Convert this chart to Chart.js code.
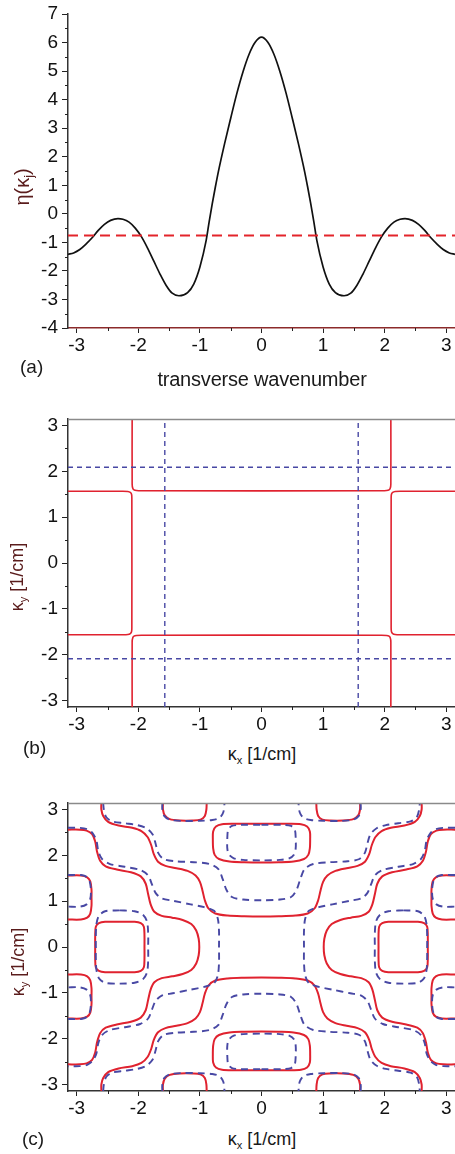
<!DOCTYPE html>
<html>
<head>
<meta charset="utf-8">
<script src="https://cdn.jsdelivr.net/npm/chart.js@4.4.1/dist/chart.umd.min.js"></script>
<style>
  html, body { margin:0; padding:0; background:#fff; }
  body { width:455px; height:1154px; position:relative; overflow:hidden; font-family:'Liberation Sans', Arial, sans-serif; }
  canvas { position:absolute; left:0; }
  .lbl { position:absolute; white-space:nowrap; line-height:1; color:#1a1a1a; }
  .rot { transform:translate(-50%,-50%) rotate(-90deg); color:#5a1c1c; }
  .ctr { transform:translate(-50%,-50%); }
  .pl  { transform:translate(0,-50%); }
  sub { font-size:0.62em; vertical-align:-0.32em; line-height:0; }
</style>
</head>
<body>
<canvas id="ca" width="455" height="395" style="top:0px"></canvas>
<canvas id="cb" width="455" height="340" style="top:400px"></canvas>
<canvas id="cc" width="455" height="340" style="top:785px"></canvas>

<div class="lbl rot" style="left:22px; top:187px; font-size:20px;">η(κ<sub>j</sub>)</div>
<div class="lbl pl" style="left:20px; top:366px; font-size:19px;">(a)</div>
<div class="lbl ctr" style="left:262px; top:379px; font-size:20px; letter-spacing:-0.2px;">transverse wavenumber</div>

<div class="lbl rot" style="left:17px; top:577px; font-size:18px;">κ<sub>y</sub> [1/cm]</div>
<div class="lbl pl" style="left:23px; top:747px; font-size:19px;">(b)</div>
<div class="lbl ctr" style="left:262px; top:754px; font-size:18px;">κ<sub>x</sub> [1/cm]</div>

<div class="lbl rot" style="left:18px; top:962px; font-size:18px;">κ<sub>y</sub> [1/cm]</div>
<div class="lbl pl" style="left:22px; top:1138px; font-size:19px;">(c)</div>
<div class="lbl ctr" style="left:262px; top:1139px; font-size:18px;">κ<sub>x</sub> [1/cm]</div>

<script>
// ---------------- data ----------------
const xTicks = [-3,-2,-1,0,1,2,3];
const xTickLabels = ['-3','-2','-1','0','1','2','3'];
const xMinor = [-2.5,-1.5,-0.5,0.5,1.5,2.5];

const yTicksA = [-4,-3,-2,-1,0,1,2,3,4,5,6,7];
const yTickLabelsA = ['-4','-3','-2','-1','0','1','2','3','4','5','6','7'];
const yMinorA = [-3.5,-2.5,-1.5,-0.5,0.5,1.5,2.5,3.5,4.5,5.5,6.5];

const yTicksK = [-3,-2,-1,0,1,2,3];
const yTickLabelsK = ['-3','-2','-1','0','1','2','3'];
const yMinorK = [-2.5,-1.5,-0.5,0.5,1.5,2.5];

// panel (a)
const etaK = [-3.1416,-3.05,-2.95,-2.85,-2.75,-2.65,-2.55,-2.45,-2.33,-2.25,-2.15,-2.05,-1.95,-1.85,-1.75,-1.65,-1.55,-1.45,-1.34,-1.2,-1.1,-1.0,-0.9,-0.85,-0.8,-0.75,-0.7,-0.6,-0.5,-0.4,-0.3,-0.2,-0.1,0,
  0.1,0.2,0.3,0.4,0.5,0.6,0.7,0.75,0.8,0.85,0.9,1.0,1.1,1.2,1.34,1.45,1.55,1.65,1.75,1.85,1.95,2.05,2.15,2.25,2.33,2.45,2.55,2.65,2.75,2.85,2.95,3.05,3.1416];
const etaV = [-1.42,-1.37,-1.25,-1.06,-0.84,-0.58,-0.37,-0.23,-0.17,-0.19,-0.29,-0.50,-0.80,-1.20,-1.65,-2.10,-2.50,-2.78,-2.87,-2.76,-2.46,-1.86,-0.95,-0.28,0.35,0.93,1.48,2.45,3.35,4.22,4.98,5.60,6.02,6.19,
  6.02,5.60,4.98,4.22,3.35,2.45,1.48,0.93,0.35,-0.28,-0.95,-1.86,-2.46,-2.76,-2.87,-2.78,-2.50,-2.10,-1.65,-1.20,-0.80,-0.50,-0.29,-0.19,-0.17,-0.23,-0.37,-0.58,-0.84,-1.06,-1.25,-1.37,-1.42];
const thresholdK = [-3.1416, 3.1416];
const thresholdV = [-0.76, -0.76];

// panel (b)
const bRedTop = [[-2.10,3.1416],[-2.10,1.72],[-2.09,1.63],[-2.07,1.595],[-2.03,1.58],[-1.95,1.575],[1.95,1.575],[2.03,1.58],[2.07,1.595],[2.09,1.63],[2.10,1.72],[2.10,3.1416]];
const bRedBot = [[-2.10,-3.1416],[-2.10,-1.72],[-2.09,-1.63],[-2.07,-1.595],[-2.03,-1.58],[-1.95,-1.575],[1.95,-1.575],[2.03,-1.58],[2.07,-1.595],[2.09,-1.63],[2.10,-1.72],[2.10,-3.1416]];
const bRedLeft = [[-3.1416,1.565],[-2.25,1.565],[-2.17,1.56],[-2.13,1.54],[-2.11,1.50],[-2.105,1.42],[-2.105,-1.42],[-2.11,-1.50],[-2.13,-1.54],[-2.17,-1.56],[-2.25,-1.565],[-3.1416,-1.565]];
const bRedRight = [[3.1416,1.565],[2.25,1.565],[2.17,1.56],[2.13,1.54],[2.11,1.50],[2.105,1.42],[2.105,-1.42],[2.11,-1.50],[2.13,-1.54],[2.17,-1.56],[2.25,-1.565],[3.1416,-1.565]];
const bBlueV1 = [[-1.57,-3.1416],[-1.57,3.1416]];
const bBlueV2 = [[1.57,-3.1416],[1.57,3.1416]];
const bBlueH1 = [[-3.1416,2.09],[3.1416,2.09]];
const bBlueH2 = [[-3.1416,-2.09],[3.1416,-2.09]];

// panel (c) solid red contours
const cRedA_top = [[-2.60,3.1416],[-2.60,3.0],[-2.57,2.86],[-2.49,2.73],[-2.32,2.65],[-2.10,2.60],[-1.95,2.53],[-1.85,2.40],[-1.79,2.22],[-1.75,2.03],[-1.68,1.86],[-1.56,1.77],[-1.38,1.72],[-1.20,1.66],[-1.07,1.56],[-1.00,1.42],[-0.96,1.24],[-0.92,1.02],[-0.86,0.84],[-0.75,0.73],[-0.55,0.685],[-0.28,0.67],[0,0.665],[0.28,0.67],[0.55,0.685],[0.75,0.73],[0.86,0.84],[0.92,1.02],[0.96,1.24],[1.00,1.42],[1.07,1.56],[1.20,1.66],[1.38,1.72],[1.56,1.77],[1.68,1.86],[1.75,2.03],[1.79,2.22],[1.85,2.40],[1.95,2.53],[2.10,2.60],[2.32,2.65],[2.49,2.73],[2.57,2.86],[2.60,3.0],[2.60,3.1416]];
const cRedA_bot = [[-2.60,-3.1416],[-2.60,-3.0],[-2.57,-2.86],[-2.49,-2.73],[-2.32,-2.65],[-2.10,-2.60],[-1.95,-2.53],[-1.85,-2.40],[-1.79,-2.22],[-1.75,-2.03],[-1.68,-1.86],[-1.56,-1.77],[-1.38,-1.72],[-1.20,-1.66],[-1.07,-1.56],[-1.00,-1.42],[-0.96,-1.24],[-0.92,-1.02],[-0.86,-0.84],[-0.75,-0.73],[-0.55,-0.685],[-0.28,-0.67],[0,-0.665],[0.28,-0.67],[0.55,-0.685],[0.75,-0.73],[0.86,-0.84],[0.92,-1.02],[0.96,-1.24],[1.00,-1.42],[1.07,-1.56],[1.20,-1.66],[1.38,-1.72],[1.56,-1.77],[1.68,-1.86],[1.75,-2.03],[1.79,-2.22],[1.85,-2.40],[1.95,-2.53],[2.10,-2.60],[2.32,-2.65],[2.49,-2.73],[2.57,-2.86],[2.60,-3.0],[2.60,-3.1416]];
const cRedB_left = [[-3.1416,2.56],[-2.95,2.56],[-2.84,2.54],[-2.75,2.46],[-2.70,2.30],[-2.67,2.08],[-2.62,1.88],[-2.53,1.76],[-2.35,1.69],[-2.12,1.63],[-1.96,1.54],[-1.88,1.38],[-1.84,1.15],[-1.80,0.93],[-1.74,0.77],[-1.62,0.68],[-1.45,0.64],[-1.28,0.59],[-1.14,0.50],[-1.06,0.36],[-1.02,0.18],[-1.01,0],[-1.02,-0.18],[-1.06,-0.36],[-1.14,-0.50],[-1.28,-0.59],[-1.45,-0.64],[-1.62,-0.68],[-1.74,-0.77],[-1.80,-0.93],[-1.84,-1.15],[-1.88,-1.38],[-1.96,-1.54],[-2.12,-1.63],[-2.35,-1.69],[-2.53,-1.76],[-2.62,-1.88],[-2.67,-2.08],[-2.70,-2.30],[-2.75,-2.46],[-2.84,-2.54],[-2.95,-2.56],[-3.1416,-2.56]];
const cRedB_right = [[3.1416,2.56],[2.95,2.56],[2.84,2.54],[2.75,2.46],[2.70,2.30],[2.67,2.08],[2.62,1.88],[2.53,1.76],[2.35,1.69],[2.12,1.63],[1.96,1.54],[1.88,1.38],[1.84,1.15],[1.80,0.93],[1.74,0.77],[1.62,0.68],[1.45,0.64],[1.28,0.59],[1.14,0.50],[1.06,0.36],[1.02,0.18],[1.01,0],[1.02,-0.18],[1.06,-0.36],[1.14,-0.50],[1.28,-0.59],[1.45,-0.64],[1.62,-0.68],[1.74,-0.77],[1.80,-0.93],[1.84,-1.15],[1.88,-1.38],[1.96,-1.54],[2.12,-1.63],[2.35,-1.69],[2.53,-1.76],[2.62,-1.88],[2.67,-2.08],[2.70,-2.30],[2.75,-2.46],[2.84,-2.54],[2.95,-2.56],[3.1416,-2.56]];
const cRedC_left = [[-2.30,0.55],[-2.06,0.55],[-1.96,0.52],[-1.91,0.44],[-1.90,0.25],[-1.90,0],[-1.90,-0.25],[-1.91,-0.44],[-1.96,-0.52],[-2.06,-0.55],[-2.30,-0.55],[-2.54,-0.55],[-2.64,-0.52],[-2.69,-0.44],[-2.70,-0.25],[-2.70,0],[-2.70,0.25],[-2.69,0.44],[-2.64,0.52],[-2.54,0.55],[-2.30,0.55]];
const cRedC_right = [[2.30,0.55],[2.06,0.55],[1.96,0.52],[1.91,0.44],[1.90,0.25],[1.90,0],[1.90,-0.25],[1.91,-0.44],[1.96,-0.52],[2.06,-0.55],[2.30,-0.55],[2.54,-0.55],[2.64,-0.52],[2.69,-0.44],[2.70,-0.25],[2.70,0],[2.70,0.25],[2.69,0.44],[2.64,0.52],[2.54,0.55],[2.30,0.55]];
const cRedD_tl = [[-3.1416,1.56],[-2.93,1.56],[-2.83,1.52],[-2.78,1.43],[-2.76,1.25],[-2.76,1.08],[-2.76,0.90],[-2.78,0.73],[-2.83,0.64],[-2.93,0.60],[-3.1416,0.60]];
const cRedD_bl = [[-3.1416,-1.56],[-2.93,-1.56],[-2.83,-1.52],[-2.78,-1.43],[-2.76,-1.25],[-2.76,-1.08],[-2.76,-0.90],[-2.78,-0.73],[-2.83,-0.64],[-2.93,-0.60],[-3.1416,-0.60]];
const cRedD_tr = [[3.1416,1.56],[2.93,1.56],[2.83,1.52],[2.78,1.43],[2.76,1.25],[2.76,1.08],[2.76,0.90],[2.78,0.73],[2.83,0.64],[2.93,0.60],[3.1416,0.60]];
const cRedD_br = [[3.1416,-1.56],[2.93,-1.56],[2.83,-1.52],[2.78,-1.43],[2.76,-1.25],[2.76,-1.08],[2.76,-0.90],[2.78,-0.73],[2.83,-0.64],[2.93,-0.60],[3.1416,-0.60]];
const cRedE_tl = [[-1.60,3.1416],[-1.60,3.0],[-1.57,2.87],[-1.49,2.79],[-1.32,2.76],[-1.12,2.76],[-0.99,2.78],[-0.92,2.86],[-0.895,3.0],[-0.89,3.1416]];
const cRedE_tr = [[1.60,3.1416],[1.60,3.0],[1.57,2.87],[1.49,2.79],[1.32,2.76],[1.12,2.76],[0.99,2.78],[0.92,2.86],[0.895,3.0],[0.89,3.1416]];
const cRedE_bl = [[-1.60,-3.1416],[-1.60,-3.0],[-1.57,-2.87],[-1.49,-2.79],[-1.32,-2.76],[-1.12,-2.76],[-0.99,-2.78],[-0.92,-2.86],[-0.895,-3.0],[-0.89,-3.1416]];
const cRedE_br = [[1.60,-3.1416],[1.60,-3.0],[1.57,-2.87],[1.49,-2.79],[1.32,-2.76],[1.12,-2.76],[0.99,-2.78],[0.92,-2.86],[0.895,-3.0],[0.89,-3.1416]];
const cRedF_top = [[0,2.69],[0.45,2.69],[0.64,2.68],[0.74,2.63],[0.785,2.52],[0.79,2.35],[0.785,2.15],[0.76,2.01],[0.69,1.92],[0.52,1.865],[0.28,1.85],[0,1.845],[-0.28,1.85],[-0.52,1.865],[-0.69,1.92],[-0.76,2.01],[-0.785,2.15],[-0.79,2.35],[-0.785,2.52],[-0.74,2.63],[-0.64,2.68],[-0.45,2.69],[0,2.69]];
const cRedF_bot = [[0,-2.69],[0.45,-2.69],[0.64,-2.68],[0.74,-2.63],[0.785,-2.52],[0.79,-2.35],[0.785,-2.15],[0.76,-2.01],[0.69,-1.92],[0.52,-1.865],[0.28,-1.85],[0,-1.845],[-0.28,-1.85],[-0.52,-1.865],[-0.69,-1.92],[-0.76,-2.01],[-0.785,-2.15],[-0.79,-2.35],[-0.785,-2.52],[-0.74,-2.63],[-0.64,-2.68],[-0.45,-2.69],[0,-2.69]];

// panel (c) dashed blue contours
const cBluA_top = [[-2.57,3.1416],[-2.56,3.0],[-2.52,2.83],[-2.42,2.74],[-2.22,2.70],[-2.02,2.66],[-1.87,2.59],[-1.77,2.46],[-1.72,2.26],[-1.68,2.06],[-1.59,1.92],[-1.40,1.87],[-1.10,1.85],[-0.84,1.81],[-0.70,1.70],[-0.63,1.48],[-0.57,1.25],[-0.48,1.09],[-0.30,1.035],[0,1.02],[0.30,1.035],[0.48,1.09],[0.57,1.25],[0.63,1.48],[0.70,1.70],[0.84,1.81],[1.10,1.85],[1.40,1.87],[1.59,1.92],[1.68,2.06],[1.72,2.26],[1.77,2.46],[1.87,2.59],[2.02,2.66],[2.22,2.70],[2.42,2.74],[2.52,2.83],[2.56,3.0],[2.57,3.1416]];
const cBluA_bot = [[-2.57,-3.1416],[-2.56,-3.0],[-2.52,-2.83],[-2.42,-2.74],[-2.22,-2.70],[-2.02,-2.66],[-1.87,-2.59],[-1.77,-2.46],[-1.72,-2.26],[-1.68,-2.06],[-1.59,-1.92],[-1.40,-1.87],[-1.10,-1.85],[-0.84,-1.81],[-0.70,-1.70],[-0.63,-1.48],[-0.57,-1.25],[-0.48,-1.09],[-0.30,-1.035],[0,-1.02],[0.30,-1.035],[0.48,-1.09],[0.57,-1.25],[0.63,-1.48],[0.70,-1.70],[0.84,-1.81],[1.10,-1.85],[1.40,-1.87],[1.59,-1.92],[1.68,-2.06],[1.72,-2.26],[1.77,-2.46],[1.87,-2.59],[2.02,-2.66],[2.22,-2.70],[2.42,-2.74],[2.52,-2.83],[2.56,-3.0],[2.57,-3.1416]];
const cBluB_left = [[-3.1416,2.60],[-2.95,2.60],[-2.83,2.57],[-2.74,2.48],[-2.68,2.32],[-2.65,2.10],[-2.59,1.92],[-2.46,1.81],[-2.22,1.75],[-1.97,1.68],[-1.84,1.56],[-1.78,1.37],[-1.72,1.18],[-1.62,1.06],[-1.44,1.01],[-1.15,0.93],[-0.93,0.87],[-0.77,0.79],[-0.71,0.62],[-0.69,0.35],[-0.69,0],[-0.69,-0.35],[-0.71,-0.62],[-0.77,-0.79],[-0.93,-0.87],[-1.15,-0.93],[-1.44,-1.01],[-1.62,-1.06],[-1.72,-1.18],[-1.78,-1.37],[-1.84,-1.56],[-1.97,-1.68],[-2.22,-1.75],[-2.46,-1.81],[-2.59,-1.92],[-2.65,-2.10],[-2.68,-2.32],[-2.74,-2.48],[-2.83,-2.57],[-2.95,-2.60],[-3.1416,-2.60]];
const cBluB_right = [[3.1416,2.60],[2.95,2.60],[2.83,2.57],[2.74,2.48],[2.68,2.32],[2.65,2.10],[2.59,1.92],[2.46,1.81],[2.22,1.75],[1.97,1.68],[1.84,1.56],[1.78,1.37],[1.72,1.18],[1.62,1.06],[1.44,1.01],[1.15,0.93],[0.93,0.87],[0.77,0.79],[0.71,0.62],[0.69,0.35],[0.69,0],[0.69,-0.35],[0.71,-0.62],[0.77,-0.79],[0.93,-0.87],[1.15,-0.93],[1.44,-1.01],[1.62,-1.06],[1.72,-1.18],[1.78,-1.37],[1.84,-1.56],[1.97,-1.68],[2.22,-1.75],[2.46,-1.81],[2.59,-1.92],[2.65,-2.10],[2.68,-2.32],[2.74,-2.48],[2.83,-2.57],[2.95,-2.60],[3.1416,-2.60]];
const cBluC_left = [[-2.30,0.80],[-2.06,0.78],[-1.93,0.71],[-1.86,0.56],[-1.84,0.30],[-1.84,0],[-1.84,-0.30],[-1.86,-0.56],[-1.93,-0.71],[-2.06,-0.78],[-2.30,-0.80],[-2.54,-0.78],[-2.64,-0.68],[-2.68,-0.50],[-2.69,-0.25],[-2.69,0],[-2.69,0.25],[-2.68,0.50],[-2.64,0.68],[-2.54,0.78],[-2.30,0.80]];
const cBluC_right = [[2.30,0.80],[2.06,0.78],[1.93,0.71],[1.86,0.56],[1.84,0.30],[1.84,0],[1.84,-0.30],[1.86,-0.56],[1.93,-0.71],[2.06,-0.78],[2.30,-0.80],[2.54,-0.78],[2.64,-0.68],[2.68,-0.50],[2.69,-0.25],[2.69,0],[2.69,0.25],[2.68,0.50],[2.64,0.68],[2.54,0.78],[2.30,0.80]];
const cBluD_tl = [[-3.1416,1.57],[-2.93,1.57],[-2.84,1.53],[-2.79,1.43],[-2.77,1.25],[-2.78,1.05],[-2.84,0.93],[-2.95,0.88],[-3.1416,0.88]];
const cBluD_bl = [[-3.1416,-1.57],[-2.93,-1.57],[-2.84,-1.53],[-2.79,-1.43],[-2.77,-1.25],[-2.78,-1.05],[-2.84,-0.93],[-2.95,-0.88],[-3.1416,-0.88]];
const cBluD_tr = [[3.1416,1.57],[2.93,1.57],[2.84,1.53],[2.79,1.43],[2.77,1.25],[2.78,1.05],[2.84,0.93],[2.95,0.88],[3.1416,0.88]];
const cBluD_br = [[3.1416,-1.57],[2.93,-1.57],[2.84,-1.53],[2.79,-1.43],[2.77,-1.25],[2.78,-1.05],[2.84,-0.93],[2.95,-0.88],[3.1416,-0.88]];
const cBluE_tl = [[-1.61,3.1416],[-1.61,3.0],[-1.58,2.86],[-1.49,2.78],[-1.30,2.75],[-1.00,2.755],[-0.80,2.77],[-0.68,2.82],[-0.62,2.94],[-0.60,3.1416]];
const cBluE_tr = [[1.61,3.1416],[1.61,3.0],[1.58,2.86],[1.49,2.78],[1.30,2.75],[1.00,2.755],[0.80,2.77],[0.68,2.82],[0.62,2.94],[0.60,3.1416]];
const cBluE_bl = [[-1.61,-3.1416],[-1.61,-3.0],[-1.58,-2.86],[-1.49,-2.78],[-1.30,-2.75],[-1.00,-2.755],[-0.80,-2.77],[-0.68,-2.82],[-0.62,-2.94],[-0.60,-3.1416]];
const cBluE_br = [[1.61,-3.1416],[1.61,-3.0],[1.58,-2.86],[1.49,-2.78],[1.30,-2.75],[1.00,-2.755],[0.80,-2.77],[0.68,-2.82],[0.62,-2.94],[0.60,-3.1416]];
const cBluF_top = [[0,2.665],[0.35,2.665],[0.48,2.64],[0.54,2.56],[0.555,2.38],[0.555,2.15],[0.53,2.02],[0.45,1.935],[0.30,1.90],[0,1.89],[-0.30,1.90],[-0.45,1.935],[-0.53,2.02],[-0.555,2.15],[-0.555,2.38],[-0.54,2.56],[-0.48,2.64],[-0.35,2.665],[0,2.665]];
const cBluF_bot = [[0,-2.665],[0.35,-2.665],[0.48,-2.64],[0.54,-2.56],[0.555,-2.38],[0.555,-2.15],[0.53,-2.02],[0.45,-1.935],[0.30,-1.90],[0,-1.89],[-0.30,-1.90],[-0.45,-1.935],[-0.53,-2.02],[-0.555,-2.15],[-0.555,-2.38],[-0.54,-2.56],[-0.48,-2.64],[-0.35,-2.665],[0,-2.665]];

// ---------------- styling / helpers ----------------
const FONT = "'Liberation Sans', Arial, Helvetica, sans-serif";
const RED = '#e0222f';
const BLUE = '#4848a4';

const minorTicks = {
  id: 'minorTicks',
  afterDraw(chart, args, o) {
    const ctx = chart.ctx, xs = chart.scales.x, ys = chart.scales.y, a = chart.chartArea;
    ctx.save();
    ctx.strokeStyle = '#222';
    ctx.lineWidth = 1;
    (o.x || []).forEach(v => {
      const p = Math.round(xs.getPixelForValue(v)) + 0.5;
      ctx.beginPath(); ctx.moveTo(p, a.bottom); ctx.lineTo(p, a.bottom + 3); ctx.stroke();
    });
    (o.y || []).forEach(v => {
      const p = Math.round(ys.getPixelForValue(v)) + 0.5;
      ctx.beginPath(); ctx.moveTo(a.left, p); ctx.lineTo(a.left - 3, p); ctx.stroke();
    });
    if (o.frameTop) {
      ctx.strokeStyle = o.frameTop; ctx.lineWidth = 1.5;
      ctx.beginPath(); ctx.moveTo(a.left, a.top + 0.5); ctx.lineTo(a.right, a.top + 0.5); ctx.stroke();
    }
    ctx.restore();
  }
};

function axisX(h, borderColor) {
  return {
    type: 'linear', min: -Math.PI, max: Math.PI,
    afterBuildTicks: s => { s.ticks = xTicks.map(v => ({ value: v })); },
    ticks: { callback: (v, i) => xTickLabels[i], font: { family: FONT, size: 19 }, color: '#111',
             padding: 1, maxRotation: 0, minRotation: 0, autoSkip: false },
    grid: { drawOnChartArea: false, drawTicks: true, tickLength: 5, color: '#222', lineWidth: 1 },
    border: { display: true, color: borderColor, width: 1.5 },
    afterFit: s => { s.height = h; s.paddingLeft = 0; s.paddingRight = 0; }
  };
}
function axisY(min, max, tv, tl) {
  return {
    type: 'linear', min: min, max: max,
    afterBuildTicks: s => { s.ticks = tv.map(v => ({ value: v })); },
    ticks: { callback: (v, i) => tl[i], font: { family: FONT, size: 19 }, color: '#111',
             padding: 4, autoSkip: false },
    grid: { drawOnChartArea: false, drawTicks: true, tickLength: 6, color: '#222', lineWidth: 1 },
    border: { display: true, color: '#333', width: 1.5 },
    afterFit: s => { s.width = 68; s.paddingTop = 0; s.paddingBottom = 0; }
  };
}
function baseOptions(padTop, xs, ys, minor) {
  return {
    responsive: false, animation: false, devicePixelRatio: 1,
    layout: { padding: { top: padTop, left: 0, right: 0, bottom: 0 } },
    plugins: { legend: { display: false }, tooltip: { enabled: false }, minorTicks: minor },
    events: [],
    scales: { x: xs, y: ys }
  };
}
function redLine(d, w, t) {
  return { data: d, showLine: true, borderColor: RED, borderWidth: w, pointRadius: 0, tension: t, fill: false, order: 2 };
}
function blueLine(d, w, dash, t) {
  return { data: d, showLine: true, borderColor: BLUE, borderWidth: w, borderDash: dash, pointRadius: 0, tension: t, fill: false, order: 1 };
}

// ---------------- panel (a) ----------------
new Chart(document.getElementById('ca'), {
  type: 'scatter',
  data: { datasets: [
    { data: thresholdK.map((k, i) => ({ x: k, y: thresholdV[i] })), showLine: true, borderColor: '#e3242b',
      borderWidth: 2, borderDash: [10, 6], pointRadius: 0, order: 1 },
    { data: etaK.map((k, i) => ({ x: k, y: etaV[i] })), showLine: true, borderColor: '#111',
      borderWidth: 1.7, pointRadius: 0, cubicInterpolationMode: 'monotone', order: 2 }
  ]},
  options: baseOptions(14, axisX(67, '#8c2b2b'), axisY(-4, 7, yTicksA, yTickLabelsA), { x: xMinor, y: yMinorA }),
  plugins: [minorTicks]
});

// ---------------- panel (b) ----------------
new Chart(document.getElementById('cb'), {
  type: 'scatter',
  data: { datasets: [
    redLine(bRedTop, 1.6, 0.25), redLine(bRedBot, 1.6, 0.25), redLine(bRedLeft, 1.6, 0.25), redLine(bRedRight, 1.6, 0.25),
    blueLine(bBlueV1, 1.4, [5, 4], 0), blueLine(bBlueV2, 1.4, [5, 4], 0),
    blueLine(bBlueH1, 1.4, [5, 4], 0), blueLine(bBlueH2, 1.4, [5, 4], 0)
  ]},
  options: baseOptions(19, axisX(33, '#333'), axisY(-Math.PI, Math.PI, yTicksK, yTickLabelsK), { x: xMinor, y: yMinorK, frameTop: '#8a8a8a' }),
  plugins: [minorTicks]
});

// ---------------- panel (c) ----------------
const cReds = [cRedA_top, cRedA_bot, cRedB_left, cRedB_right, cRedC_left, cRedC_right,
  cRedD_tl, cRedD_bl, cRedD_tr, cRedD_br, cRedE_tl, cRedE_tr, cRedE_bl, cRedE_br, cRedF_top, cRedF_bot];
const cBlues = [cBluA_top, cBluA_bot, cBluB_left, cBluB_right, cBluC_left, cBluC_right,
  cBluD_tl, cBluD_bl, cBluD_tr, cBluD_br, cBluE_tl, cBluE_tr, cBluE_bl, cBluE_br, cBluF_top, cBluF_bot];
new Chart(document.getElementById('cc'), {
  type: 'scatter',
  data: { datasets: [
    ...cReds.map(d => redLine(d, 2, 0.3)),
    ...cBlues.map(d => blueLine(d, 1.9, [7, 5], 0.3))
  ]},
  options: baseOptions(18, axisX(34, '#333'), axisY(-Math.PI, Math.PI, yTicksK, yTickLabelsK), { x: xMinor, y: yMinorK, frameTop: '#8a8a8a' }),
  plugins: [minorTicks]
});
</script>
</body>
</html>
